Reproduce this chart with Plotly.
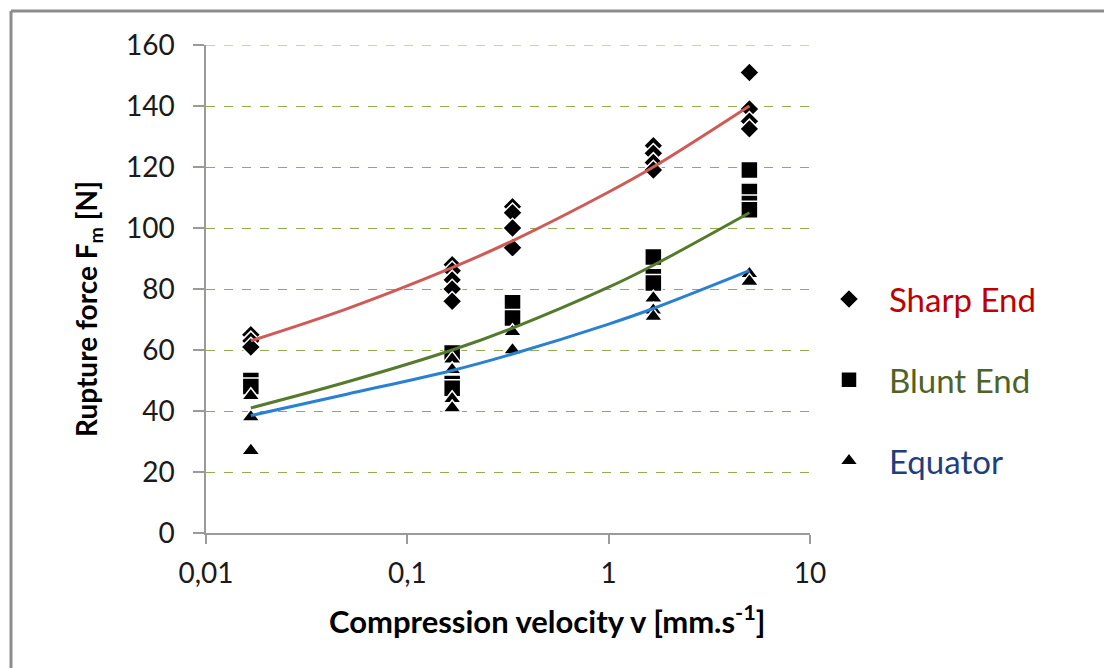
import plotly.graph_objects as go

# ---- data ----
sharp_v = [0.0167, 0.0167, 0.0167,
           0.167, 0.167, 0.167, 0.167, 0.167,
           0.333, 0.333, 0.333, 0.333,
           1.667, 1.667, 1.667, 1.667,
           5.0, 5.0, 5.0, 5.0]
sharp_f = [65, 63, 61,
           88, 86, 83, 80, 76,
           107, 105, 100, 93.5,
           127, 124.5, 121.5, 119,
           151, 139, 135, 132.5]

blunt_v = [0.0167, 0.0167,
           0.167, 0.167, 0.167,
           0.333, 0.333,
           1.667, 1.667, 1.667,
           5.0, 5.0, 5.0, 5.0]
blunt_f = [50, 48,
           59, 49, 47.5,
           75.5, 70.5,
           90.5, 84, 82,
           119, 112, 108, 106]

equator_v = [0.0167, 0.0167, 0.0167,
             0.167, 0.167, 0.167, 0.167,
             0.333, 0.333,
             1.667, 1.667, 1.667,
             5.0, 5.0]
equator_f = [45, 38, 27,
             57, 53.5, 44, 41,
             66, 60,
             77, 73, 71,
             85, 82.5]

trend_v = [0.0167, 0.05, 0.167, 0.333, 1.0, 1.667, 5.0]
trend_sharp = [63, 73.5, 87, 95.8, 111.8, 120, 140]
trend_blunt = [41, 49.5, 60, 67.2, 80.6, 87.8, 105]
trend_equator = [38.5, 45.5, 53.3, 58.7, 68.5, 73.6, 86]

x_tickvals = [0.01, 0.1, 1, 10]
x_ticktext = ["0,01", "0,1", "1", "10"]
y_tickvals = [0, 20, 40, 60, 80, 100, 120, 140, 160]

FONT = "Lato"
GRID = "#8FAE4E"

fig = go.Figure()

def marker_trace(x, y, symbol, size, name, color):
    return go.Scatter(
        x=x, y=y, mode="markers",
        marker=dict(symbol=symbol, size=size, color="black",
                    line=dict(color="white", width=1.5)),
        name=f"<span style='color:{color}'>{name}</span>",
        legendgroup=name,
    )

fig.add_trace(marker_trace(sharp_v, sharp_f, "diamond", 15, "Sharp End", "#C00000"))
fig.add_trace(marker_trace(blunt_v, blunt_f, "square", 17, "Blunt End", "#4F6228"))
fig.add_trace(marker_trace(equator_v, equator_f, "triangle-up", 16, "Equator", "#1F3E7C"))

for yv, col in [(trend_sharp, "#CF5B57"), (trend_blunt, "#557A2B"), (trend_equator, "#2A80D2")]:
    fig.add_trace(go.Scatter(x=trend_v, y=yv, mode="lines", line=dict(color=col, width=3, shape="spline"),
                             showlegend=False, hoverinfo="skip"))

L, R, T, B = 206, 294, 45, 135
W, H = 1104, 668
pw, ph = W - L - R, H - T - B

def px_x(p):
    return (p - L) / pw

def px_y(p):
    return (H - B - p) / ph

fig.update_layout(
    width=W, height=H,
    margin=dict(l=L, r=R, t=T, b=B),
    paper_bgcolor="white", plot_bgcolor="white",
    font=dict(family=FONT, size=28, color="#1a1a1a"),
    legend=dict(x=px_x(809), y=px_y(271), xanchor="left", yanchor="top",
                font=dict(family=FONT, size=33), tracegroupgap=35,
                bgcolor="rgba(0,0,0,0)", itemwidth=70),
    showlegend=True,
    xaxis=dict(type="log", range=[-2, 1], tickvals=x_tickvals, ticktext=x_ticktext,
               showgrid=False, zeroline=False, showline=True, linecolor="#9a9a9a", linewidth=1.5,
               ticks="outside", ticklen=9, tickcolor="#9a9a9a", tickwidth=1.5,
               ticklabelstandoff=6, tickfont=dict(size=28)),
    yaxis=dict(range=[0, 160], tickvals=y_tickvals, showgrid=True, gridcolor=GRID,
               griddash="dash", gridwidth=1, zeroline=False, showline=True,
               linecolor="#9a9a9a", linewidth=1.5, ticks="outside", ticklen=11,
               tickcolor="#9a9a9a", tickwidth=1.5, ticklabelstandoff=13, tickfont=dict(size=28)),
    annotations=[
        dict(text="Compression velocity v [mm.s<sup>-1</sup>]", xref="paper", yref="paper",
             x=px_x(547), y=px_y(619), showarrow=False, xanchor="center", yanchor="middle",
             font=dict(family=FONT, size=31, color="black", weight="bold")),
        dict(text="Rupture force F<sub>m</sub> [N]", xref="paper", yref="paper",
             x=px_x(88), y=px_y(309), showarrow=False, textangle=-90, xanchor="center", yanchor="middle",
             font=dict(family=FONT, size=28, color="black", weight="bold")),
    ],
    shapes=[
        dict(type="line", xref="paper", yref="y", x0=0, x1=1, y0=y_tickvals[-1], y1=y_tickvals[-1],
             line=dict(color=GRID, width=1, dash="dash"), layer="below"),
        dict(type="line", xref="paper", yref="paper", x0=px_x(11), x1=px_x(11), y0=px_y(11), y1=px_y(668),
             line=dict(color="#8c8c8c", width=3)),
        dict(type="line", xref="paper", yref="paper", x0=px_x(11), x1=px_x(1104), y0=px_y(11), y1=px_y(11),
             line=dict(color="#8c8c8c", width=3)),
    ],
)

fig.write_html("out.html")
